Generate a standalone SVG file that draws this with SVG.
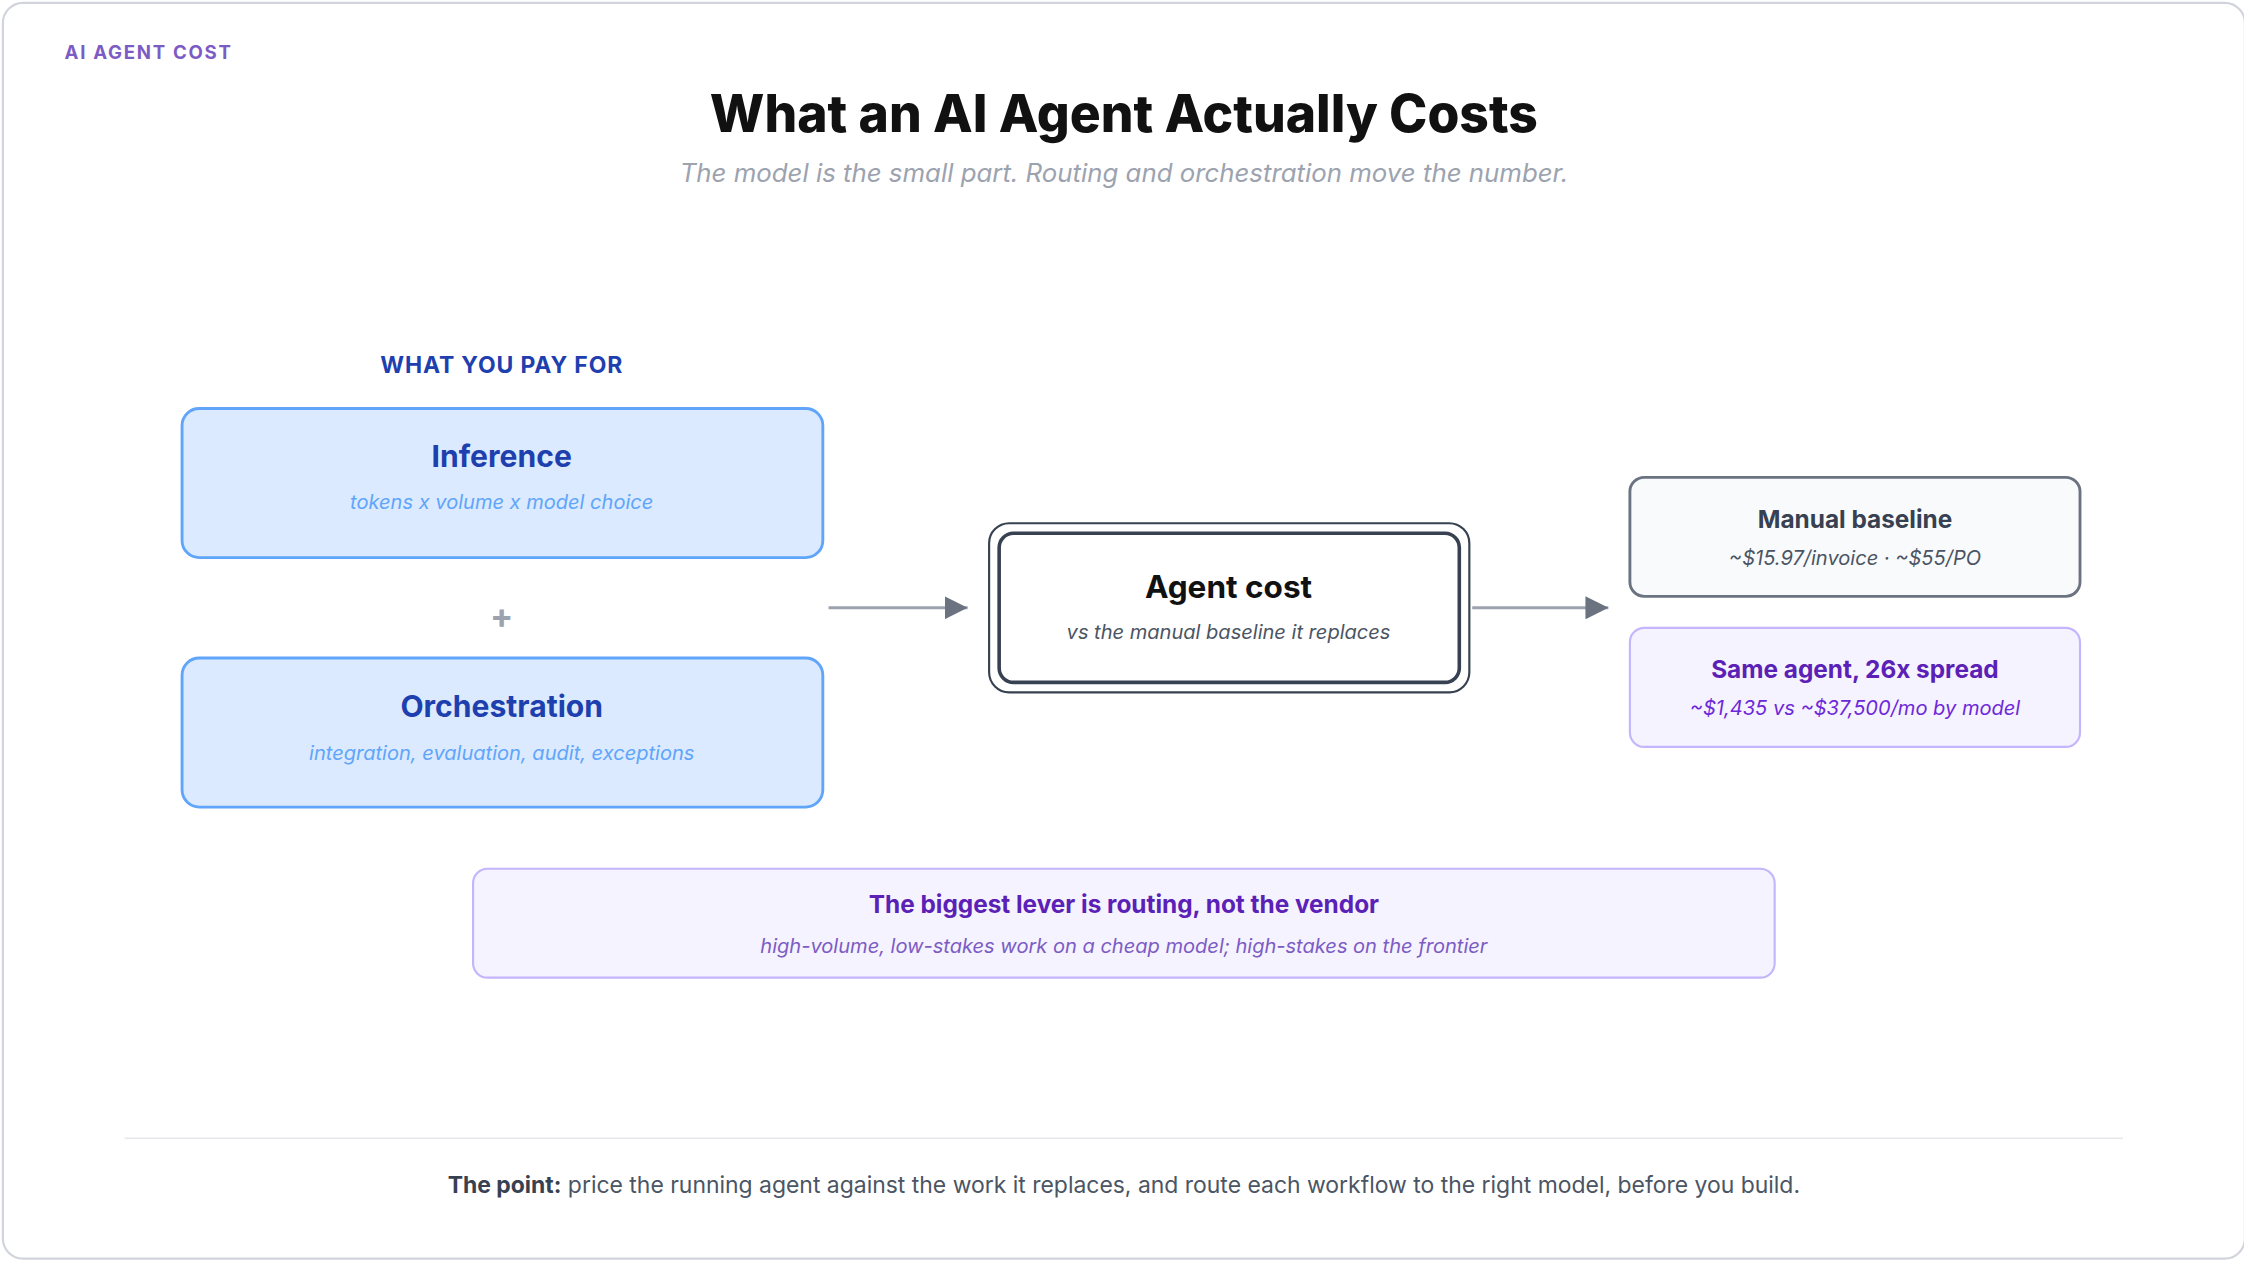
<svg xmlns="http://www.w3.org/2000/svg" width="2244" height="1264" viewBox="0 0 2244 1264">
<style>
text{font-family:Inter,"Noto Sans","Liberation Sans",sans-serif;text-anchor:middle}
.t{font-weight:700}
.s{font-style:italic;font-size:14px}
.blue{fill:#dbeafe;stroke:#60a5fa;stroke-width:2}
.pur{fill:#f5f3ff;stroke:#c4b5fd;stroke-width:1.5}
.ln{stroke:#9ca3af;stroke-width:2;fill:none}
</style>
<defs><marker id="ah" viewBox="0 0 10 10" refX="9" refY="5" markerWidth="9" markerHeight="9" markerUnits="userSpaceOnUse" orient="auto"><path d="M0,0L10,5L0,10z" fill="#6b7280"/></marker>
<marker id="a" viewBox="0 0 10 10" refX="10" refY="5" markerWidth="8" markerHeight="8" orient="auto"><path d="M0,0L10,5L0,10z" fill="#6b7280"/></marker></defs>
<rect width="2244" height="1264" fill="#fff"/>
<g transform="scale(1.4335)">
<rect x="2" y="2" width="1564" height="876" rx="14" fill="#fff" stroke="#d1d5db" stroke-width="1.5"/>
<text x="45" y="41" style="text-anchor:start;font-size:13px;font-weight:700;letter-spacing:1.2px;fill:#7c5cc4">AI AGENT COST</text>
<text x="784" y="92" style="font-size:36px;font-weight:800;fill:#111">What an AI Agent Actually Costs</text>
<text x="784" y="127" style="font-size:18px;font-style:italic;fill:#9ca3af">The model is the small part. Routing and orchestration move the number.</text>
<text x="350" y="260" style="font-size:16px;font-weight:700;letter-spacing:0.6px;fill:#1e40af">WHAT YOU PAY FOR</text>
<g id="connectors">
<line class="ln" x1="578" y1="424" x2="675" y2="424" marker-end="url(#a)"/>
<line class="ln" x1="1027" y1="424" x2="1122" y2="424" marker-end="url(#a)"/>
</g>
<g id="inference"><rect class="blue" x="127" y="285" width="447" height="104" rx="12"/>
<text class="t" x="350" y="326" style="font-size:21px;fill:#1e40af">Inference</text>
<text class="s" x="350" y="355" style="fill:#60a5fa">tokens x volume x model choice</text></g>
<g id="plus"><text x="350" y="438" style="font-size:24px;font-weight:700;fill:#9ca3af">+</text></g>
<g id="orchestration"><rect class="blue" x="127" y="459" width="447" height="104" rx="12"/>
<text class="t" x="350" y="500" style="font-size:21px;fill:#1e40af">Orchestration</text>
<text class="s" x="350" y="530" style="fill:#60a5fa">integration, evaluation, audit, exceptions</text></g>
<g id="agent"><rect x="690" y="365" width="335" height="118" rx="14" fill="#fff" stroke="#374151" stroke-width="1.5"/>
<rect x="697" y="372" width="321" height="104" rx="10" fill="#fff" stroke="#374151" stroke-width="2.5"/>
<text class="t" x="857" y="417" style="font-size:22px;fill:#111">Agent cost</text>
<text class="s" x="857" y="446" style="fill:#4b5563">vs the manual baseline it replaces</text></g>
<g id="manual"><rect x="1137" y="333" width="314" height="83" rx="10" fill="#f8fafc" stroke="#6b7280" stroke-width="2"/>
<text class="t" x="1294" y="368" style="font-size:17px;fill:#374151">Manual baseline</text>
<text class="s" x="1294" y="394" style="fill:#4b5563">~$15.97/invoice · ~$55/PO</text></g>
<g id="spread"><rect class="pur" x="1137" y="438" width="314" height="83" rx="10"/>
<text class="t" x="1294" y="473" style="font-size:17px;fill:#5b21b6">Same agent, 26x spread</text>
<text class="s" x="1294" y="499" style="fill:#6d28d9">~$1,435 vs ~$37,500/mo by model</text></g>
<g id="lever"><rect class="pur" x="330" y="606" width="908" height="76" rx="10"/>
<text class="t" x="784" y="637" style="font-size:17px;fill:#5b21b6">The biggest lever is routing, not the vendor</text>
<text class="s" x="784" y="665" style="fill:#7c5cc4">high-volume, low-stakes work on a cheap model; high-stakes on the frontier</text></g>
<line x1="87" y1="794" x2="1481" y2="794" stroke="#e5e7eb" stroke-width="1"/>
<text x="784" y="832" style="font-size:16px;fill:#4b5563"><tspan style="font-weight:700;fill:#374151">The point:</tspan> price the running agent against the work it replaces, and route each workflow to the right model, before you build.</text>
</g>
</svg>
